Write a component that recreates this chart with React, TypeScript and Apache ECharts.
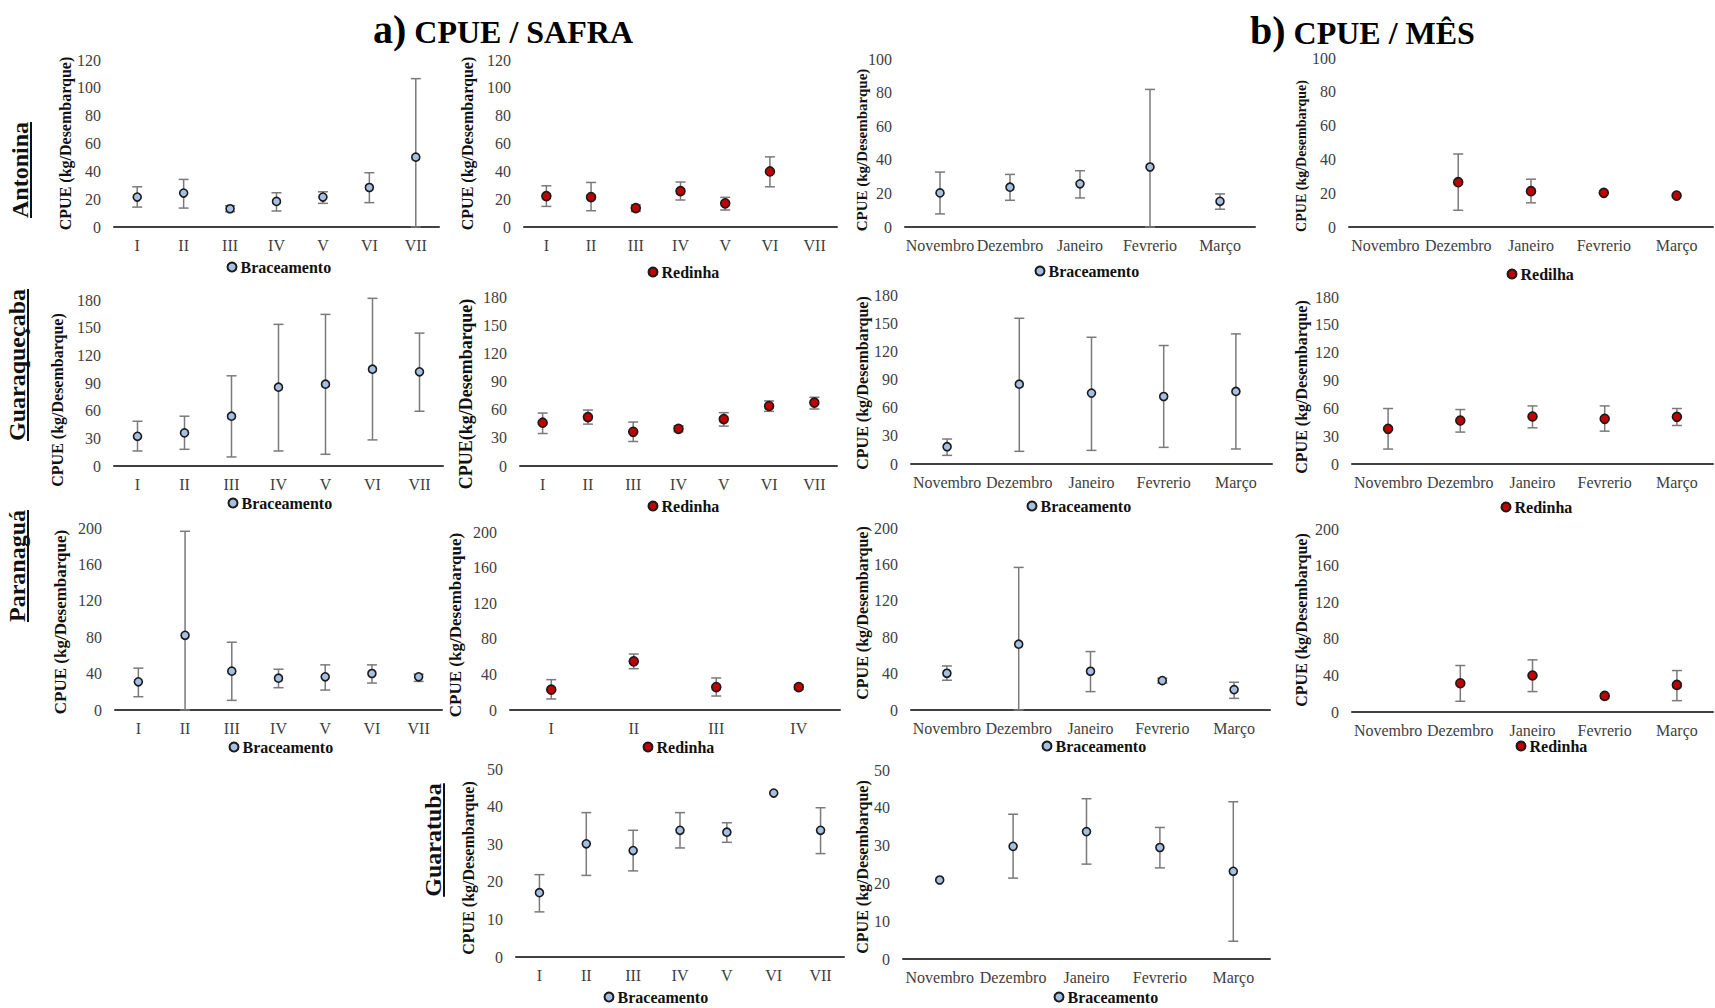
import React, { useEffect, useRef } from 'react';
import * as echarts from 'echarts';

// ---------- categories ----------
const safraCats = ['I', 'II', 'III', 'IV', 'V', 'VI', 'VII'];
const safraCats4 = ['I', 'II', 'III', 'IV'];
const mesCats = ['Novembro', 'Dezembro', 'Janeiro', 'Fevrerio', 'Março'];

// ---------- Antonina ----------
const antBracSafraMean = [21.5, 24.4, 13.1, 18.4, 21.5, 28.4, 50.2];
const antBracSafraLow = [14.3, 13.6, 11.0, 11.5, 17.0, 17.5, 0];
const antBracSafraHigh = [28.9, 34.2, 15.3, 24.6, 25.3, 39.0, 106.6];

const antRedSafraMean = [22.2, 21.5, 13.6, 25.8, 17.0, 39.9, null];
const antRedSafraLow = [14.8, 11.7, 11.2, 19.4, 12.2, 28.9, null];
const antRedSafraHigh = [29.6, 32.0, 16.0, 32.3, 21.3, 50.4, null];

const antBracMesMean = [20.3, 23.7, 25.7, 35.7, 15.3];
const antBracMesLow = [7.8, 15.9, 17.3, 0, 10.6];
const antBracMesHigh = [32.7, 31.3, 33.5, 81.9, 19.7];

const antRedMesMean = [null, 26.5, 21.2, 20.2, 18.6];
const antRedMesLow = [null, 9.9, 14.3, null, null];
const antRedMesHigh = [null, 43.2, 28.3, null, null];

// ---------- Guaraqueçaba ----------
const guaBracSafraMean = [32.2, 35.9, 54.0, 85.5, 88.7, 105.0, 102.1];
const guaBracSafraLow = [16.3, 18.1, 9.8, 16.3, 12.7, 28.3, 59.4];
const guaBracSafraHigh = [48.5, 54.0, 97.8, 153.6, 164.4, 181.8, 144.1];

const guaRedSafraMean = [46.1, 52.1, 36.4, 39.6, 50.0, 63.9, 67.5];
const guaRedSafraLow = [34.6, 44.6, 26.1, 36.4, 42.5, 58.2, 60.7];
const guaRedSafraHigh = [56.4, 59.6, 46.8, 42.9, 56.8, 69.3, 73.2];

const guaBracMesMean = [18.4, 85.0, 75.5, 71.9, 77.3];
const guaBracMesLow = [9.2, 13.5, 14.5, 17.7, 16.0];
const guaBracMesHigh = [26.6, 155.2, 135.0, 126.2, 138.6];

const guaRedMesMean = [37.9, 46.9, 51.2, 48.7, 50.8];
const guaRedMesLow = [16.1, 34.4, 39.0, 35.4, 41.5];
const guaRedMesHigh = [59.8, 58.7, 62.6, 62.6, 59.8];

// ---------- Paranaguá ----------
const parBracSafraMean = [31.0, 82.1, 42.7, 35.0, 36.5, 40.1, 36.5];
const parBracSafraLow = [14.6, 0, 10.6, 24.5, 21.9, 29.6, 31.4];
const parBracSafraHigh = [46.0, 196.4, 74.5, 44.8, 49.6, 49.6, 39.4];

const parRedSafraMean = [22.8, 54.7, 25.8, 25.8];
const parRedSafraLow = [12.4, 46.4, 15.7, 23.2];
const parRedSafraHigh = [34.1, 62.9, 36.0, 28.5];

const parBracMesMean = [40.4, 72.3, 42.6, 32.3, 22.4];
const parBracMesLow = [32.7, 0, 20.2, 29.7, 12.8];
const parBracMesHigh = [48.4, 156.7, 64.2, 34.9, 30.5];

const parRedMesMean = [null, 31.4, 39.9, 17.6, 29.6];
const parRedMesLow = [null, 11.7, 22.3, null, 12.4];
const parRedMesHigh = [null, 50.8, 57.0, null, 45.3];

// ---------- Guaratuba ----------
const gtbBracSafraMean = [17.1, 30.1, 28.3, 33.7, 33.2, 43.6, 33.7];
const gtbBracSafraLow = [12.0, 21.7, 22.9, 29.0, 30.5, null, 27.5];
const gtbBracSafraHigh = [21.9, 38.4, 33.7, 38.4, 35.7, null, 39.7];

const gtbBracMesMean = [20.9, 29.8, 33.7, 29.5, 23.2];
const gtbBracMesLow = [null, 21.4, 25.1, 24.1, 4.7];
const gtbBracMesHigh = [null, 38.3, 42.4, 34.8, 41.6];

// ---------- text ----------
const yTitle = 'CPUE (kg/Desembarque)';
const yTitleNoSpace = 'CPUE(kg/Desembarque)';
const rowLabels = ['Antonina', 'Guaraqueçaba', 'Paranaguá', 'Guaratuba'];

const FONT = "'Times New Roman', 'Liberation Serif', serif";
const BLUE = '#a6c0e4';
const RED = '#c00000';

type Panel = {
  cats: string[];
  mean: (number | null)[];
  low: (number | null)[];
  high: (number | null)[];
  name: string;
  red: boolean;
  g: [number, number, number, number];
  max: number;
  interval: number;
  yt: [number, number, number, string];
  lg: [number, number];
};

const panels: Panel[] = [
  // Row 1 Antonina
  { cats: safraCats, mean: antBracSafraMean, low: antBracSafraLow, high: antBracSafraHigh, name: 'Braceamento', red: false,
    g: [114, 60, 325, 167], max: 120, interval: 20, yt: [65, 143.5, 16, yTitle], lg: [231, 268] },
  { cats: safraCats, mean: antRedSafraMean, low: antRedSafraLow, high: antRedSafraHigh, name: 'Redinha', red: true,
    g: [524, 60, 313, 167], max: 120, interval: 20, yt: [467, 143.5, 16, yTitle], lg: [652, 273] },
  { cats: mesCats, mean: antBracMesMean, low: antBracMesLow, high: antBracMesHigh, name: 'Braceamento', red: false,
    g: [905, 59, 350, 168], max: 100, interval: 20, yt: [862, 150, 15, yTitle], lg: [1039, 272] },
  { cats: mesCats, mean: antRedMesMean, low: antRedMesLow, high: antRedMesHigh, name: 'Redilha', red: true,
    g: [1349, 58, 364, 169], max: 100, interval: 20, yt: [1301, 156, 14, yTitle], lg: [1511, 275] },
  // Row 2 Guaraqueçaba
  { cats: safraCats, mean: guaBracSafraMean, low: guaBracSafraLow, high: guaBracSafraHigh, name: 'Braceamento', red: false,
    g: [114, 300, 329, 166], max: 180, interval: 30, yt: [57, 400, 16, yTitle], lg: [232, 504] },
  { cats: safraCats, mean: guaRedSafraMean, low: guaRedSafraLow, high: guaRedSafraHigh, name: 'Redinha', red: true,
    g: [520, 297, 317, 169], max: 180, interval: 30, yt: [466, 394, 18, yTitleNoSpace], lg: [652, 507] },
  { cats: mesCats, mean: guaBracMesMean, low: guaBracMesLow, high: guaBracMesHigh, name: 'Braceamento', red: false,
    g: [911, 295, 361, 169], max: 180, interval: 30, yt: [862, 383, 16, yTitle], lg: [1031, 507] },
  { cats: mesCats, mean: guaRedMesMean, low: guaRedMesLow, high: guaRedMesHigh, name: 'Redinha', red: true,
    g: [1352, 297, 361, 167], max: 180, interval: 30, yt: [1301, 387, 16, yTitle], lg: [1505, 508] },
  // Row 3 Paranaguá
  { cats: safraCats, mean: parBracSafraMean, low: parBracSafraLow, high: parBracSafraHigh, name: 'Braceamento', red: false,
    g: [115, 528, 327, 182], max: 200, interval: 40, yt: [60, 622, 17, yTitle], lg: [233, 748] },
  { cats: safraCats4, mean: parRedSafraMean, low: parRedSafraLow, high: parRedSafraHigh, name: 'Redinha', red: true,
    g: [510, 532, 330, 178], max: 200, interval: 40, yt: [455, 625, 17, yTitle], lg: [647, 748] },
  { cats: mesCats, mean: parBracMesMean, low: parBracMesLow, high: parBracMesHigh, name: 'Braceamento', red: false,
    g: [911, 528, 359, 182], max: 200, interval: 40, yt: [862, 613, 16, yTitle], lg: [1046, 747] },
  { cats: mesCats, mean: parRedMesMean, low: parRedMesLow, high: parRedMesHigh, name: 'Redinha', red: true,
    g: [1352, 529, 361, 183], max: 200, interval: 40, yt: [1301, 620, 16, yTitle], lg: [1520, 747] },
  // Row 4 Guaratuba
  { cats: safraCats, mean: gtbBracSafraMean, low: gtbBracSafraLow, high: gtbBracSafraHigh, name: 'Braceamento', red: false,
    g: [516, 769, 328, 188], max: 50, interval: 10, yt: [468, 868, 16, yTitle], lg: [608, 998] },
  { cats: mesCats, mean: gtbBracMesMean, low: gtbBracMesLow, high: gtbBracMesHigh, name: 'Braceamento', red: false,
    g: [903, 770, 367, 189], max: 50, interval: 10, yt: [862, 867, 16, yTitle], lg: [1058, 998] },
];

const rowLabelPos: [number, number][] = [
  [20, 170],
  [17, 365],
  [17, 566],
  [433, 840],
];

function measure(text: string, font: string): number {
  const c = document.createElement('canvas');
  const ctx = c.getContext('2d');
  if (!ctx) return text.length * 12;
  ctx.font = font;
  return ctx.measureText(text).width;
}

const errRender = (params: any, api: any) => {
  const x = api.value(0);
  const lo = api.coord([x, api.value(1)]);
  const hi = api.coord([x, api.value(2)]);
  const w = 5;
  const style = { stroke: '#7a7a7a', lineWidth: 1.5 };
  return {
    type: 'group',
    children: [
      { type: 'line', shape: { x1: lo[0], y1: lo[1], x2: hi[0], y2: hi[1] }, style },
      { type: 'line', shape: { x1: lo[0] - w, y1: lo[1], x2: lo[0] + w, y2: lo[1] }, style },
      { type: 'line', shape: { x1: hi[0] - w, y1: hi[1], x2: hi[0] + w, y2: hi[1] }, style },
    ],
  };
};

function buildOption() {
  const grid: any[] = [];
  const xAxis: any[] = [];
  const yAxis: any[] = [];
  const series: any[] = [];
  const legend: any[] = [];
  const graphic: any[] = [];

  panels.forEach((p, i) => {
    grid.push({ left: p.g[0], top: p.g[1], width: p.g[2], height: p.g[3], containLabel: false, outerBoundsMode: 'none' });
    xAxis.push({
      type: 'category', gridIndex: i, data: p.cats, boundaryGap: true,
      axisLine: { show: true, lineStyle: { color: '#404040', width: 2 } },
      axisTick: { show: false },
      splitLine: { show: false },
      axisLabel: { interval: 0, hideOverlap: false, color: '#404040', fontFamily: FONT, fontSize: 16, margin: 10 },
    });
    yAxis.push({
      type: 'value', gridIndex: i, min: 0, max: p.max, interval: p.interval,
      axisLine: { show: false }, axisTick: { show: false }, splitLine: { show: false },
      axisLabel: { color: '#404040', fontFamily: FONT, fontSize: 16, margin: 13 },
    });
    const errData: any[] = [];
    p.low.forEach((lo, k) => {
      const hi = p.high[k];
      if (lo != null && hi != null) errData.push([k, lo, hi]);
    });
    series.push({
      type: 'custom', name: p.name + ' (desvio)', xAxisIndex: i, yAxisIndex: i,
      data: errData, renderItem: errRender, encode: { x: 0, y: [1, 2] }, z: 2, silent: true,
    });
    const pts: any[] = [];
    p.mean.forEach((v, k) => { if (v != null) pts.push([k, v]); });
    series.push({
      type: 'scatter', name: p.name, xAxisIndex: i, yAxisIndex: i, data: pts,
      symbol: 'circle', symbolSize: p.red ? 9 : 8, z: 3,
      itemStyle: { color: p.red ? RED : BLUE, borderColor: '#1a1a1a', borderWidth: 1.6, opacity: 1 },
    });
    legend.push({
      data: [p.name], left: p.lg[0] - 4.5, top: p.lg[1] - 9, padding: 0,
      icon: 'circle', itemWidth: 9, itemHeight: 9, selectedMode: false,
      textStyle: { fontFamily: FONT, fontSize: 16, fontWeight: 'bold', color: '#111', padding: [0, 0, 0, -1] },
    });
    graphic.push({
      type: 'text', x: p.yt[0], y: p.yt[1], rotation: Math.PI / 2, silent: true,
      style: { text: p.yt[3], font: `bold ${p.yt[2]}px ${FONT}`, fill: '#111', align: 'center', verticalAlign: 'middle' },
    });
  });

  // Row labels (underlined)
  rowLabels.forEach((t, i) => {
    const [x, y] = rowLabelPos[i];
    const font = `bold 24px ${FONT}`;
    const w = measure(t, "bold 24px 'Liberation Serif'");
    graphic.push({
      type: 'text', x, y, rotation: Math.PI / 2, silent: true,
      style: { text: t, font, fill: '#111', align: 'center', verticalAlign: 'middle' },
    });
    graphic.push({
      type: 'line', silent: true,
      shape: { x1: x + 11, y1: y - w / 2, x2: x + 11, y2: y + w / 2 },
      style: { stroke: '#111', lineWidth: 2 },
    });
  });

  // Section titles
  const titles: [number, number, string, string][] = [
    [373, 1, 'a)', 'CPUE / SAFRA'],
    [1250, 2, 'b)', 'CPUE / MÊS'],
  ];
  titles.forEach(([x, dy, pre, rest]) => {
    const wPre = measure(pre + ' ', "bold 40px 'Liberation Serif'");
    graphic.push({
      type: 'text', x, y: 28 + dy, silent: true,
      style: { text: pre, font: `bold 40px ${FONT}`, fill: '#000', align: 'left', verticalAlign: 'middle' },
    });
    graphic.push({
      type: 'text', x: x + wPre - 2, y: 31 + dy, silent: true,
      style: { text: rest, font: `bold 32px ${FONT}`, fill: '#000', align: 'left', verticalAlign: 'middle' },
    });
  });

  return {
    animation: false,
    backgroundColor: '#ffffff',
    textStyle: { fontFamily: FONT },
    grid, xAxis, yAxis, series, legend, graphic,
  };
}

export default function App() {
  const ref = useRef<HTMLDivElement>(null);
  useEffect(() => {
    if (!ref.current) return;
    const chart = echarts.init(ref.current, undefined, { renderer: 'svg' });
    chart.setOption(buildOption() as any);
    return () => chart.dispose();
  }, []);
  return (
    <div
      ref={ref}
      style={{ position: 'absolute', left: 0, top: 0, width: 1715, height: 1008, background: '#fff' }}
    />
  );
}
